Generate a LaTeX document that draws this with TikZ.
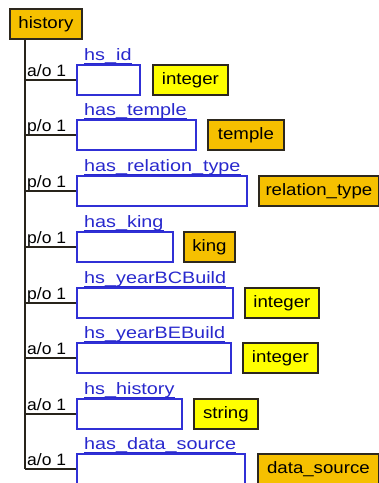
\documentclass[tikz,border=0pt]{standalone}
\usepackage{fontspec}
\setmainfont{Liberation Sans}
\definecolor{classorange}{RGB}{246,192,0}
\definecolor{typeyellow}{RGB}{255,255,0}
\definecolor{propblue}{RGB}{48,48,214}
\definecolor{labelblue}{RGB}{40,40,205}
\definecolor{edgedark}{RGB}{45,40,30}
\tikzset{
  treeline/.style={draw=edgedark!90!black, line width=1.8pt},
  propbox/.style={draw=propblue, line width=1.8pt, fill=white, minimum height=30pt, inner sep=0pt},
  typebox/.style={draw=edgedark, line width=1.8pt, minimum height=30pt, inner sep=0pt,
    font=\fontsize{16.5}{18}\selectfont},
  cardlabel/.style={inner sep=0pt, text=black, font=\fontsize{16.5}{18}\selectfont},
  proplabel/.style={inner sep=0pt, text=labelblue, font=\fontsize{16.5}{18}\selectfont},
}
\newcommand{\typetext}[1]{\scalebox{1.13}[1]{#1}}
\begin{document}
\begin{tikzpicture}[x=1pt, y=-1pt]
  \useasboundingbox (0,0) rectangle (379,483);
  \clip (0,0) rectangle (379,483);

  % class node and the trunk of the tree
  \node[typebox, fill=classorange, anchor=north west, minimum width=72pt] (history) at (9,8) {\typetext{history}};
  \coordinate (trunk) at ([xshift=16pt]history.south west);

  % one row per property: cardinality, property box with its name, range type
  \foreach \i/\top/\card/\lab/\pr/\typ/\tl/\tr/\tfill in {
      1/64/a\slash o 1/hs\_id/139/integer/152/227/typeyellow,
      2/119/p\slash o 1/has\_temple/195/temple/207/283/classorange,
      3/175/p\slash o 1/has\_relation\_type/246/relation\_type/258/378/classorange,
      4/231/p\slash o 1/has\_king/172/king/183/234/classorange,
      5/287/p\slash o 1/hs\_yearBCBuild/232/integer/244/318/typeyellow,
      6/342/a\slash o 1/hs\_yearBEBuild/230/integer/242/317/typeyellow,
      7/398/a\slash o 1/hs\_history/181/string/193/257/typeyellow,
      8/453/a\slash o 1/has\_data\_source/244/data\_source/257/378/classorange} {
    \pgfmathsetmacro{\pw}{\pr-76}
    \pgfmathsetmacro{\tw}{\tr-\tl}
    \node[propbox, anchor=north west, minimum width=\pw pt] (p\i) at (76,\top) {};
    \node[typebox, fill=\tfill, anchor=north west, minimum width=\tw pt] (t\i) at (\tl,\top) {\typetext{\typ}};
    \node[proplabel, anchor=base west] (n\i) at (84,\top-3.5) {\scalebox{1.2}[1]{\lab}};
    \draw[labelblue, line width=1.1pt] ([yshift=-3pt]n\i.base west) -- ([yshift=-3pt]n\i.base east);
    \node[cardlabel, anchor=base west] (c\i) at (27,\top+12.7) {\scalebox{1.06}[1]{\card}};
    \draw[treeline] (p\i.west) -- (p\i.west -| trunk);
  }
  \coordinate (trunkend) at (trunk |- p8.west);
  \draw[treeline] (trunk) -- (trunkend);
\end{tikzpicture}
\end{document}
